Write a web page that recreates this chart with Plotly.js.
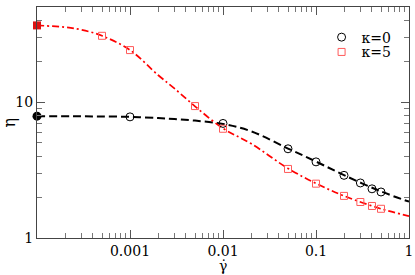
<!DOCTYPE html>
<html>
<head>
<meta charset="utf-8">
<script src="https://cdn.plot.ly/plotly-3.0.1.min.js"></script>
<style>html,body{margin:0;padding:0;background:#fff;}#plot{width:415px;height:275px;}</style>
</head>
<body>
<div id="plot"></div>
<script>
// measured points
const rateK0 = [0.001, 0.01, 0.05, 0.1, 0.2, 0.3, 0.4, 0.5];
const etaK0 = [7.78, 6.96, 4.53, 3.63, 2.89, 2.54, 2.30, 2.18];
const rateK5 = [0.0005, 0.001, 0.005, 0.01, 0.05, 0.1, 0.2, 0.3, 0.4, 0.5];
const etaK5 = [30.7, 24.1, 9.34, 6.36, 3.22, 2.51, 2.04, 1.84, 1.72, 1.64];
// zero-shear values (filled symbols)
const rateZero = [0.0001];
const etaZeroK0 = [7.87];
const etaZeroK5 = [36.6];
// fit curves
const fitRate = [0.0001, 0.0002, 0.0003, 0.0005, 0.001, 0.002, 0.003, 0.005, 0.01, 0.02, 0.05, 0.1, 0.2, 0.5, 1];
const fitK0 = [7.87, 7.86, 7.85, 7.83, 7.78, 7.62, 7.5, 7.3, 6.9, 6.1, 4.55, 3.65, 2.9, 2.2, 1.85];
const fitK5 = [36.6, 35.5, 34.0, 30.7, 24.1, 15.8, 12.6, 9.3, 6.4, 4.95, 3.25, 2.52, 2.04, 1.64, 1.45];
const xTicks = [0.001, 0.01, 0.1, 1];
const xTickText = ['0.001', '0.01', '0.1', '1'];
const yTicks = [1, 10];
const yTickText = ['1', '10'];
const labels = ['\u03ba=0', '\u03ba=5'];
const xTitle = '\u03b3\u0307';
const yTitle = '\u03b7';

const FONT = 'DejaVu Serif';
const traces = [
  {x: fitRate, y: fitK0, mode: 'lines', line: {color: '#000', width: 2, dash: '8px,4px', shape: 'spline'}, showlegend: false, hoverinfo: 'skip'},
  {x: fitRate, y: fitK5, mode: 'lines', line: {color: '#ff0000', width: 1.7, dash: '7px,3px,2px,3px', shape: 'spline'}, showlegend: false, hoverinfo: 'skip'},
  {x: rateK0, y: etaK0, mode: 'markers', name: labels[0], legend: 'legend', marker: {symbol: 'circle-open', size: 8, color: '#000', line: {width: 1}}},
  {x: rateK5, y: etaK5, mode: 'markers', name: labels[1], legend: 'legend2', marker: {symbol: 'square-open', size: 7, color: '#ff5a5a', line: {width: 1}}},
  {x: rateZero, y: etaZeroK0, mode: 'markers', showlegend: false, cliponaxis: false, marker: {symbol: 'circle', size: 9, color: '#000'}},
  {x: rateZero, y: etaZeroK5, mode: 'markers', showlegend: false, cliponaxis: false, marker: {symbol: 'square', size: 8, color: '#dd1111'}}
];
const axisCommon = {
  type: 'log', showgrid: false, zeroline: false, showline: true, linecolor: '#444', linewidth: 1,
  mirror: 'ticks', ticks: 'inside', ticklen: 8, tickcolor: '#555', tickwidth: 1,
  tickmode: 'array', tickfont: {family: FONT, size: 14, color: '#000'},
  minor: {ticks: 'inside', ticklen: 5, tickcolor: '#777', dtick: 'D1', showgrid: false}
};
const legendCommon = {xanchor: 'left', yanchor: 'top', bgcolor: 'rgba(0,0,0,0)', font: {family: FONT, size: 14, color: '#000'}, itemwidth: 30, tracegroupgap: 0};
const layout = {
  width: 415, height: 275,
  margin: {l: 37, r: 6, t: 7, b: 37},
  paper_bgcolor: '#fff', plot_bgcolor: '#fff',
  font: {family: FONT, size: 14, color: '#000'},
  xaxis: Object.assign({}, axisCommon, {range: [-4, 0], tickvals: xTicks, ticktext: xTickText, automargin: false}),
  yaxis: Object.assign({}, axisCommon, {range: [0, Math.log10(50)], tickvals: yTicks, ticktext: yTickText, automargin: false}),
  annotations: [
    {text: xTitle, xref: 'paper', yref: 'paper', x: 0.5, y: 0, yshift: -37, xanchor: 'center', yanchor: 'bottom', borderpad: 0, showarrow: false, font: {family: FONT, size: 14, color: '#000'}},
    {text: yTitle, xref: 'paper', yref: 'paper', x: 0, y: 0.5, xshift: -28, xanchor: 'center', yanchor: 'middle', textangle: -90, showarrow: false, font: {family: FONT, size: 16, color: '#000'}}
  ],
  showlegend: true,
  legend: Object.assign({}, legendCommon, {x: 0.765, y: 0.937}),
  legend2: Object.assign({}, legendCommon, {x: 0.765, y: 0.873})
};
Plotly.newPlot('plot', traces, layout, {staticPlot: true, displayModeBar: false});
</script>
</body>
</html>
